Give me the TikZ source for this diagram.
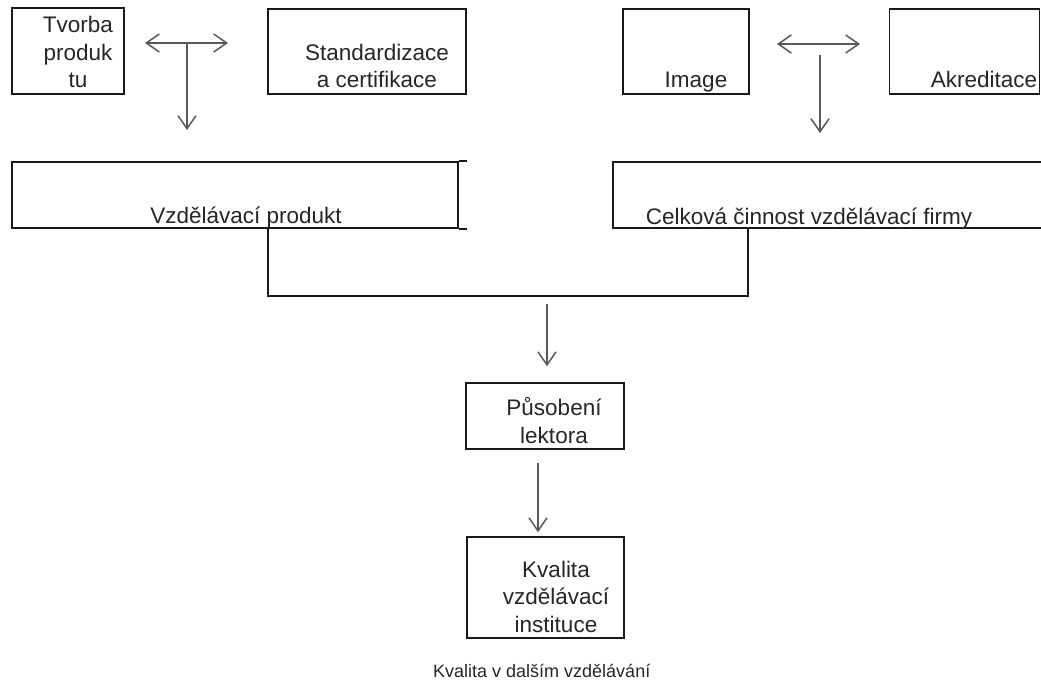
\documentclass[tikz,border=0pt]{standalone}
\usepackage{fontspec}
\setmainfont{Liberation Sans}
\usetikzlibrary{arrows.meta}
\begin{document}
\begin{tikzpicture}[x=1pt,y=-1pt,
  box/.style={draw=black!90, line width=1.6pt, rectangle, inner sep=0pt},
  lbl/.style={font=\fontsize{22.5}{27.5}\selectfont, text=black!85, align=center, anchor=base, inner sep=0pt},
  captxt/.style={font=\fontsize{18}{22}\selectfont, text=black!85, anchor=base west, inner sep=0pt},
  barb/.tip={Straight Barb[length=13pt,width=18pt,line width=1.5pt]},
  arr/.style={draw=black!65, line width=1.6pt, -barb},
  darr/.style={draw=black!65, line width=1.6pt, barb-barb},
  link/.style={draw=black!90, line width=1.6pt}]
\useasboundingbox (0,0) rectangle (1041,682);
\fill[white] (0,0) rectangle (1041,682);
% boxes
\node[box, minimum width=112pt, minimum height=86pt] (tvorba) at (68,51) {};
\node[box, minimum width=198pt, minimum height=85pt] (std) at (367,51.5) {};
\node[box, minimum width=126pt, minimum height=85pt] (image) at (686,51.5) {};
\node[box, minimum width=150pt, minimum height=85pt] (akred) at (964.5,51.5) {};
\node[box, minimum width=446pt, minimum height=66pt] (vprod) at (235,195) {};
\node[box, minimum width=432pt, minimum height=66pt] (celk) at (829,195) {};
\node[box, minimum width=158pt, minimum height=66pt] (pusob) at (545,416) {};
\node[box, minimum width=157pt, minimum height=101pt] (kval) at (545.5,587.5) {};
% texts (base anchor = baseline of the last line)
\node[lbl] (t1) at (78,88) {Tvorba\\produk\\tu};
\node[lbl] (t2) at (377,88) {Standardizace\\a certifikace};
\node[lbl] (t3) at (696,88) {Image};
\node[lbl] (t4) at (984,88) {Akreditace};
\node[lbl] (t5) at (246,223) {Vzdělávací produkt};
\node[lbl] (t6) at (809,224) {Celková činnost vzdělávací firmy};
\node[lbl] (t7) at (554,443) {Působení\\lektora};
\node[lbl] (t8) at (556,632) {Kvalita\\vzdělávací\\instituce};
\node[captxt] (t9) at (433,677) {Kvalita v dalším vzdělávání};
% stubs of the left lower box
\draw[link] (vprod.north east) -- ++(8,0);
\draw[link] (vprod.south east) -- ++(8,0);
% left T arrows
\coordinate (lh1) at (145,43);
\coordinate (lh2) at (228,43);
\coordinate (lv) at (187,43);
\coordinate (lvend) at (187,130);
\draw[darr] (lh1) -- (lh2);
\draw[arr] (lv) -- (lvend);
% right T arrows
\coordinate (rh1) at (777,44);
\coordinate (rh2) at (860,44);
\coordinate (rv) at (820,55);
\coordinate (rvend) at (820,133);
\draw[darr] (rh1) -- (rh2);
\draw[arr] (rv) -- (rvend);
% join
\coordinate (jl) at (268,296);
\coordinate (jr) at (748,296);
\draw[link] (vprod.south -| jl) -- (jl) -- (jr) -- (celk.south -| jr);
% down arrows
\coordinate (a1) at (547,304);
\draw[arr, shorten >=16pt] (a1) -- (pusob.north -| a1);
\coordinate (a2) at (538,463);
\draw[arr, shorten >=4pt] (a2) -- (kval.north -| a2);
\end{tikzpicture}
\end{document}
